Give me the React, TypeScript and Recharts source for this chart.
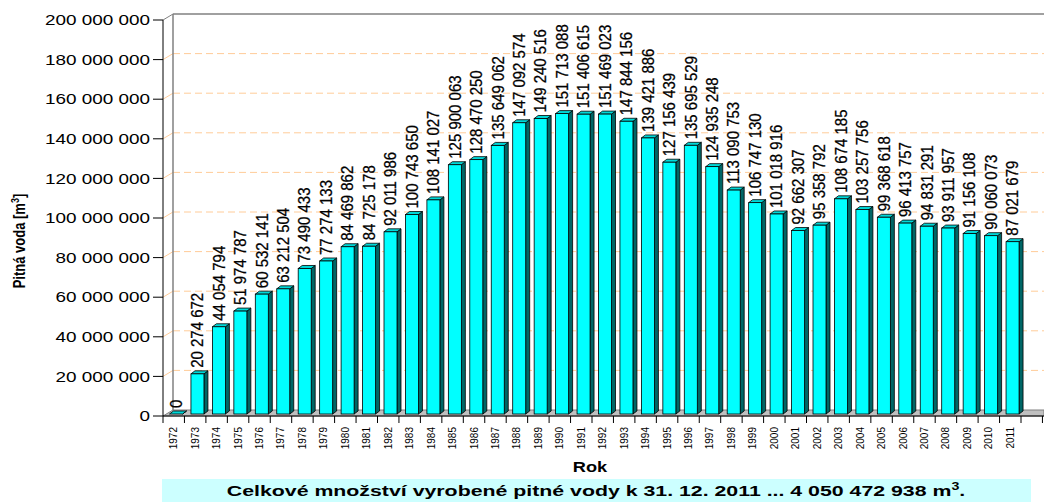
import React from "react";
import { BarChart, Bar, XAxis, YAxis, CartesianGrid, LabelList } from "recharts";

const years = [
  "1972", "1973", "1974", "1975", "1976", "1977", "1978", "1979", "1980", "1981",
  "1982", "1983", "1984", "1985", "1986", "1987", "1988", "1989", "1990", "1991",
  "1992", "1993", "1994", "1995", "1996", "1997", "1998", "1999", "2000", "2001",
  "2002", "2003", "2004", "2005", "2006", "2007", "2008", "2009", "2010", "2011",
];

const volumes = [
  0, 20274672, 44054794, 51974787, 60532141, 63212504, 73490433, 77274133, 84469862, 84725178,
  92011986, 100743650, 108141027, 125900063, 128470250, 135649062, 147092574, 149240516, 151713088, 151406615,
  151469023, 147844156, 139421886, 127156439, 135695529, 124935248, 113090753, 106747130, 101018916, 92662307,
  95358792, 108674185, 103257756, 99368618, 96413757, 94831291, 93911957, 91156108, 90060073, 87021679,
];

const yTicks = [0, 20000000, 40000000, 60000000, 80000000, 100000000, 120000000, 140000000, 160000000, 180000000, 200000000];

const data = years.map((year, i) => ({ year, value: volumes[i] }));

const W = 1044;
const H = 502;
const PLOT_LEFT = 163;
const PLOT_RIGHT = 1021;
const PLOT_TOP = 20;
const PLOT_BOTTOM = 416;
const DX = 10; // depth of the back wall
const DY = 6;
const BW = (PLOT_RIGHT - PLOT_LEFT) / years.length;
const FACE_SHIFT = 2.5;

const fmt = (v: number) => String(v).replace(/\B(?=(\d{3})+(?!\d))/g, " ");

// grid lines sit on the back wall, the zero line becomes the floor
const gridLine = (props: any) => {
  const { x1, y1 } = props;
  if (Math.abs(y1 - PLOT_BOTTOM) < 1) {
    return (
      <polygon
        key={`floor`}
        points={`${x1},${y1} ${x1 + DX},${y1 - DY} ${W},${y1 - DY} ${W},${y1}`}
        fill="#c0c0c0"
        stroke="#808080"
        strokeWidth={1}
      />
    );
  }
  if (Math.abs(y1 - PLOT_TOP) < 1) {
    return (
      <g key="top">
        <line x1={x1} y1={y1} x2={x1 + DX} y2={y1 - DY} stroke="#808080" />
        <line x1={x1 + DX} y1={y1 - DY} x2={W} y2={y1 - DY} stroke="#808080" strokeWidth={1.5} />
        <line x1={x1 + DX} y1={y1 - DY} x2={x1 + DX} y2={PLOT_BOTTOM - DY} stroke="#808080" strokeWidth={1.5} />
      </g>
    );
  }
  return (
    <g key={`g-${y1}`}>
      <line x1={x1} y1={y1} x2={x1 + DX} y2={y1 - DY} stroke="#ffcc99" />
      <line x1={x1 + DX} y1={y1 - DY} x2={W} y2={y1 - DY} stroke="#ffcc99" strokeDasharray="7 4" />
    </g>
  );
};

const Bar3D = (props: any) => {
  const { x, y, width, height } = props;
  const fx = x + FACE_SHIFT;
  const top = y - 2;
  const bottom = y + height - 2;
  const d = 4;
  const up = 3;
  return (
    <g>
      <polygon
        points={`${fx + width},${top} ${fx + width + d},${top - up} ${fx + width + d},${bottom - up} ${fx + width},${bottom}`}
        fill="#006666"
        stroke="#000"
        strokeWidth={0.8}
      />
      <polygon
        points={`${fx},${top} ${fx + d},${top - up} ${fx + width + d},${top - up} ${fx + width},${top}`}
        fill="#00d8d8"
        stroke="#000"
        strokeWidth={0.8}
      />
      {bottom - top > 0 && (
        <rect x={fx} y={top} width={width} height={bottom - top} fill="#00ffff" stroke="#000" strokeWidth={0.8} />
      )}
    </g>
  );
};

const BarLabel = (props: any) => {
  const { x, y, width, value } = props;
  const cx = x + width / 2 + FACE_SHIFT;
  const ty = y - 8;
  return (
    <text
      transform={`translate(${cx},${ty}) scale(1.1,1) rotate(-90)`}
      textAnchor="start"
      dy="0.35em"
      fontSize={15}
      fill="#000"
      stroke="#000"
      strokeWidth={0.25}
    >
      {fmt(value)}
    </text>
  );
};

const YTick = (props: any) => {
  const { x, y, payload } = props;
  return (
    <g transform={`translate(${x},${y})`}>
      <text transform="scale(1.26,1)" textAnchor="end" dy="0.35em" fontSize={15} fill="#000">
        {fmt(payload.value)}
      </text>
    </g>
  );
};

const XTick = (props: any) => {
  const { x, payload, index } = props;
  const y0 = PLOT_BOTTOM;
  const last = index === years.length - 1;
  return (
    <g>
      <line x1={x - BW / 2} y1={y0} x2={x - BW / 2} y2={y0 + 7} stroke="#000" />
      {last && (
        <g>
          <line x1={x + BW / 2} y1={y0} x2={x + BW / 2} y2={y0 + 7} stroke="#000" />
          <line x1={x + BW * 1.5} y1={y0} x2={x + BW * 1.5} y2={y0 + 7} stroke="#000" />
          <line x1={x + BW / 2} y1={y0} x2={W} y2={y0} stroke="#000" />
        </g>
      )}
      <text transform={`translate(${x},${y0 + 11}) rotate(-90)`} textAnchor="end" dy="0.35em" fontSize={10} fill="#000">
        {payload.value}
      </text>
    </g>
  );
};

export default function App() {
  return (
    <div style={{ position: "absolute", left: 0, top: 0, width: W, height: H, background: "#fff", fontFamily: "'Liberation Sans', Arial, sans-serif" }}>
      <BarChart
        width={W}
        height={H}
        data={data}
        margin={{ top: PLOT_TOP, right: W - PLOT_RIGHT, bottom: 0, left: 0 }}
        style={{ fontFamily: "'Liberation Sans', Arial, sans-serif" }}
      >
        <CartesianGrid horizontal={gridLine} vertical={false} />
        <XAxis
          dataKey="year"
          height={H - PLOT_BOTTOM}
          interval={0}
          tickLine={false}
          tick={<XTick />}
          axisLine={{ stroke: "#000" }}
        />
        <YAxis
          width={PLOT_LEFT}
          domain={[0, 200000000]}
          ticks={yTicks}
          tickSize={10}
          tickMargin={3}
          tick={<YTick />}
          tickLine={{ stroke: "#000" }}
          axisLine={{ stroke: "#000" }}
        />
        <Bar dataKey="value" barSize={13} shape={<Bar3D />} isAnimationActive={false}>
          <LabelList dataKey="value" content={<BarLabel />} />
        </Bar>
      </BarChart>
      <div
        style={{
          position: "absolute",
          left: 19,
          top: 241,
          transform: "translate(-50%,-50%) rotate(-90deg) scaleY(1.2)",
          whiteSpace: "nowrap",
          fontSize: 13,
          fontWeight: "bold",
        }}
      >
        Pitná voda [m<sup style={{ fontSize: 9 }}>3</sup>]
      </div>
      <div
        style={{
          position: "absolute",
          left: 590,
          top: 459,
          transform: "translateX(-50%) scaleX(1.3)",
          fontSize: 14,
          fontWeight: "bold",
          lineHeight: "16px",
        }}
      >
        Rok
      </div>
      <div
        style={{
          position: "absolute",
          left: 162,
          top: 479,
          width: 869,
          height: 23,
          background: "#ccffff",
          textAlign: "center",
        }}
      >
        <span
          style={{
            display: "inline-block",
            transform: "scaleX(1.42)",
            fontSize: 15,
            fontWeight: "bold",
            lineHeight: "24px",
            whiteSpace: "nowrap",
          }}
        >
          Celkové množství vyrobené pitné vody k 31. 12. 2011 ... 4 050 472 938 m<sup style={{ fontSize: 10, lineHeight: 0 }}>3</sup>.
        </span>
      </div>
    </div>
  );
}
